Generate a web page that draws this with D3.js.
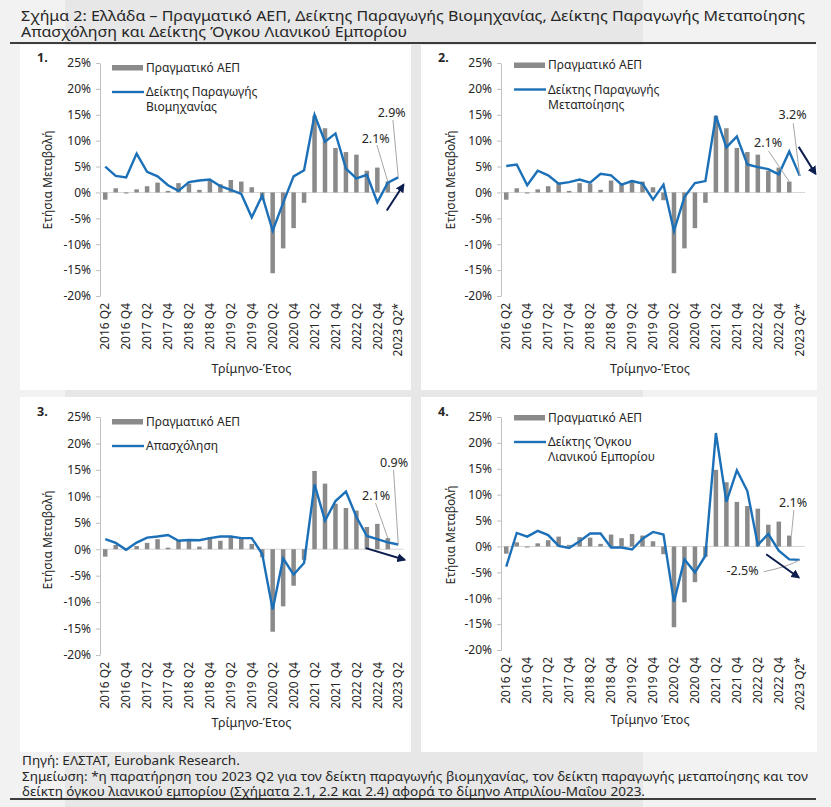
<!DOCTYPE html>
<html>
<head>
<meta charset="utf-8">
<script src="https://cdn.jsdelivr.net/npm/d3@7"></script>
<style>
  body { margin: 0; background: #f2f2f2; }
  text { font-family: "Noto Sans", sans-serif; fill: #262626; }
</style>
</head>
<body>
<svg id="chart" width="831" height="807"></svg>
<script>
// Quarters on the x axis (2016 Q2 .. 2023 Q2)
var quarters = ["2016 Q2","2016 Q3","2016 Q4","2017 Q1","2017 Q2","2017 Q3","2017 Q4",
  "2018 Q1","2018 Q2","2018 Q3","2018 Q4","2019 Q1","2019 Q2","2019 Q3","2019 Q4",
  "2020 Q1","2020 Q2","2020 Q3","2020 Q4","2021 Q1","2021 Q2","2021 Q3","2021 Q4",
  "2022 Q1","2022 Q2","2022 Q3","2022 Q4","2023 Q1","2023 Q2"];

// Annual change, %
var gdp = [-1.4, 0.8, -0.2, 0.6, 1.2, 1.9, 0.3, 1.8, 1.7, 0.5, 2.3, 1.6, 2.4, 2.1, 1.0,
  -1.5, -15.6, -10.8, -6.9, -2.0, 14.8, 12.4, 8.6, 7.8, 7.3, 4.2, 4.8, 2.1, null];
var industry = [5.0, 3.2, 2.9, 7.5, 4.0, 3.1, 1.4, 0.3, 2.0, 2.3, 2.5, 1.2, 0.5, -0.3, -4.8,
  -0.6, -7.4, -2.0, 3.1, 4.3, 15.0, 9.8, 11.4, 4.6, 2.7, 3.4, -1.9, 1.9, 2.9];
var manufacturing = [5.1, 5.4, 1.4, 4.2, 3.3, 1.7, 2.0, 2.5, 1.9, 3.6, 3.3, 1.5, 2.2, 1.7, -1.4,
  1.5, -7.4, -0.9, 1.8, 2.2, 14.8, 8.7, 10.8, 5.4, 4.9, 4.5, 3.5, 7.9, 3.2];
var employment = [1.9, 1.2, -0.1, 1.25, 2.2, 2.4, 2.7, 1.6, 1.75, 1.7, 2.1, 2.4, 2.4, 2.1, 2.1,
  -0.9, -11.4, -1.75, -4.8, -2.6, 12.25, 5.4, 9.1, 10.9, 6.1, 2.5, 1.9, 1.3, 0.9];
var retail = [-3.9, 2.6, 1.9, 3.0, 2.2, 0.1, -0.3, 1.0, 2.5, 2.5, -0.2, -0.2, -0.6, 1.5, 2.8,
  2.3, -10.7, -2.5, -5.0, -1.8, 21.9, 8.6, 14.7, 10.7, 0.3, 2.4, -0.8, -2.5, -2.6];

var yTicks = [25, 20, 15, 10, 5, 0, -5, -10, -15, -20];
var tickQuarters = quarters.filter(function (q, i) { return i % 2 === 0; });

var titleLines = ["Σχήμα 2: Ελλάδα – Πραγματικό ΑΕΠ, Δείκτης Παραγωγής Βιομηχανίας, Δείκτης Παραγωγής Μεταποίησης",
  "Απασχόληση και Δείκτης Όγκου Λιανικού Εμπορίου"];
var noteLines = ["Πηγή: ΕΛΣΤΑΤ, Eurobank Research.",
  "Σημείωση: *η παρατήρηση του 2023 Q2 για τον δείκτη παραγωγής βιομηχανίας, τον δείκτη παραγωγής μεταποίησης και τον",
  "δείκτη όγκου λιανικού εμπορίου (Σχήματα 2.1, 2.2 και 2.4) αφορά το δίμηνο Απριλίου-Μαΐου 2023."];

var barColor = "#8a8a8a", lineColor = "#1b70b8", arrowColor = "#0c1d4e", axisColor = "#bfbfbf";

var svg = d3.select("#chart");

// page background and the darker band behind it
svg.append("rect").attr("width", 831).attr("height", 807).attr("fill", "#f2f2f2");
svg.append("rect").attr("x", 65).attr("width", 578).attr("height", 807).attr("fill", "#e7e7e7");

svg.append("defs").append("marker")
  .attr("id", "head")
  .attr("viewBox", "0 0 10 10")
  .attr("refX", 8).attr("refY", 5)
  .attr("markerWidth", 4.5).attr("markerHeight", 4.5)
  .attr("orient", "auto")
  .append("path").attr("d", "M0,0 L10,5 L0,10 z").attr("fill", arrowColor);

// fit a group of lines horizontally so that one reference line gets width w
function squeeze(nodes, refIndex, w) {
  var ratio = w / nodes[refIndex].node().getComputedTextLength();
  nodes.forEach(function (t) {
    var len = t.node().getComputedTextLength();
    t.attr("textLength", (len * ratio).toFixed(1)).attr("lengthAdjust", "spacingAndGlyphs");
  });
}

// Title
var titleNodes = titleLines.map(function (s, k) {
  return svg.append("text").attr("x", 21).attr("y", 20.5 + k * 16.5)
    .attr("font-family", "Roboto, sans-serif").attr("font-size", 14).text(s);
});
squeeze(titleNodes, 0, 784);
svg.append("line").attr("x1", 10).attr("x2", 816).attr("y1", 43).attr("y2", 43)
  .attr("stroke", "#000").attr("stroke-width", 1.3);

var panels = [
  { num: "1.", box: [20, 45, 391, 345], xr: [100, 403.5], yr: [296, 63], legendAt: [112, 65],
    series: industry, legend: ["Δείκτης Παραγωγής", "Βιομηχανίας"], star: true,
    yTitle: [52, 180], xTitle: [251.5, 373, "Τρίμηνο-Έτος"],
    notes: [
      { text: "2.9%", at: [27.37, 14.56], from: [27.49, 13.98], to: [28, industry[28]] },
      { text: "2.1%", at: [25.84, 9.54], from: [25.96, 9.15], to: [27, gdp[27]] }
    ],
    arrow: [[26.9, -3.5], [28.5, 1.5]] },
  { num: "2.", box: [421, 45, 396, 345], xr: [501, 805], yr: [296, 63], legendAt: [514, 62.5],
    series: manufacturing, legend: ["Δείκτης Παραγωγής", "Μεταποίησης"], star: true,
    yTitle: [455, 180], xTitle: [650, 373, "Τρίμηνο-Έτος"],
    notes: [
      { text: "3.2%", at: [27.32, 14.18], from: [27.38, 13.35], to: [28, manufacturing[28]] },
      { text: "2.1%", at: [24.98, 8.86], from: [25.02, 8.0], to: [27, gdp[27]] }
    ],
    arrow: [[27.9, 8.8], [29.5, 3.6]] },
  { num: "3.", box: [20, 397, 391, 355], xr: [100, 403.5], yr: [655, 417], legendAt: [112, 419],
    series: employment, legend: ["Απασχόληση"], star: false,
    yTitle: [52, 540], xTitle: [251.5, 727, "Τρίμηνο-Έτος"],
    notes: [
      { text: "0.9%", at: [27.6, 15.54], from: [27.55, 14.97], to: [28, employment[28]] },
      { text: "2.1%", at: [25.88, 9.3], from: [25.83, 8.73], to: [27, gdp[27]] }
    ],
    arrow: [[24.9, 0.2], [28.6, -2.0]] },
  { num: "4.", box: [421, 397, 396, 355], xr: [501, 805], yr: [650, 417], legendAt: [514, 415],
    series: retail, legend: ["Δείκτης Όγκου", "Λιανικού Εμπορίου"], star: true,
    yTitle: [455, 535], xTitle: [650, 724, "Τρίμηνο Έτος"],
    notes: [
      { text: "2.1%", at: [27.36, 7.6], from: [27.44, 7.03], to: [27.2, gdp[27]] },
      { text: "-2.5%", at: [22.54, -5.52], from: [24.55, -4.89], to: [28, retail[28]], bend: [26.9, -3.9] }
    ],
    arrow: [[24.8, -1.5], [27.9, -6.0]] }
];

function drawPanel(p) {
  var g = svg.append("g");
  g.append("rect").attr("x", p.box[0]).attr("y", p.box[1])
    .attr("width", p.box[2]).attr("height", p.box[3]).attr("fill", "#fff");

  var x = d3.scaleBand().domain(quarters).range(p.xr).paddingInner(0.57).paddingOuter(0.285);
  var y = d3.scaleLinear().domain([-20, 25]).range(p.yr);
  var half = x.bandwidth() / 2;
  var xi = d3.scaleLinear().domain([0, quarters.length - 1])
    .range([x(quarters[0]) + half, x(quarters[quarters.length - 1]) + half]);

  // y axis
  var ya = g.append("g").attr("transform", "translate(" + p.xr[0] + ",0)")
    .call(d3.axisLeft(y).tickValues(yTicks).tickSize(4).tickSizeOuter(0).tickPadding(5)
      .tickFormat(function (d) { return d + "%"; }));
  ya.select(".domain").attr("stroke", axisColor);
  ya.selectAll(".tick line").attr("stroke", axisColor);
  ya.selectAll("text").attr("font-size", 12).attr("font-family", "Noto Sans").attr("fill", "#262626");

  // zero line
  g.append("line").attr("x1", p.xr[0]).attr("x2", p.xr[1])
    .attr("y1", y(0)).attr("y2", y(0)).attr("stroke", "#d6d6d6").attr("stroke-width", 1);

  // x axis labels
  var last = quarters[quarters.length - 1];
  var xa = g.append("g").attr("transform", "translate(0," + p.yr[0] + ")")
    .call(d3.axisBottom(x).tickValues(tickQuarters).tickSize(0)
      .tickFormat(function (d) { return d === last && p.star ? d + "*" : d; }));
  xa.select(".domain").remove();
  xa.selectAll("text")
    .attr("font-size", 12).attr("font-family", "Noto Sans").attr("fill", "#262626")
    .attr("transform", "rotate(-90)")
    .attr("x", -7).attr("y", 0).attr("dy", "0.35em")
    .attr("text-anchor", "end");

  // GDP bars
  g.selectAll(".bar").data(gdp.map(function (d, i) { return { q: quarters[i], v: d }; })
      .filter(function (d) { return d.v !== null; }))
    .enter().append("rect")
    .attr("x", function (d) { return x(d.q); })
    .attr("width", x.bandwidth())
    .attr("y", function (d) { return y(Math.max(0, d.v)); })
    .attr("height", function (d) { return Math.abs(y(d.v) - y(0)); })
    .attr("fill", barColor);

  // indicator line
  g.append("path").datum(p.series)
    .attr("d", d3.line().x(function (d, i) { return xi(i); }).y(function (d) { return y(d); }))
    .attr("fill", "none").attr("stroke", lineColor).attr("stroke-width", 2.4)
    .attr("stroke-linejoin", "miter");

  // annotations
  p.notes.forEach(function (n) {
    var path = n.bend
      ? "M" + xi(n.from[0]) + "," + y(n.from[1]) + " Q" + xi(n.bend[0]) + "," + y(n.bend[1]) + " " + xi(n.to[0]) + "," + y(n.to[1])
      : "M" + xi(n.from[0]) + "," + y(n.from[1]) + " L" + xi(n.to[0]) + "," + y(n.to[1]);
    g.append("path").attr("d", path).attr("fill", "none")
      .attr("stroke", "#a6a6a6").attr("stroke-width", 1);
    g.append("text").attr("x", xi(n.at[0])).attr("y", y(n.at[1]))
      .attr("text-anchor", "middle").attr("font-size", 12.5).text(n.text);
  });
  g.append("line")
    .attr("x1", xi(p.arrow[0][0])).attr("y1", y(p.arrow[0][1]))
    .attr("x2", xi(p.arrow[1][0])).attr("y2", y(p.arrow[1][1]))
    .attr("stroke", arrowColor).attr("stroke-width", 2).attr("marker-end", "url(#head)");

  // legend
  var lx = p.legendAt[0], ly = p.legendAt[1];
  g.append("rect").attr("x", lx).attr("y", ly).attr("width", 31).attr("height", 5.5).attr("fill", barColor);
  g.append("text").attr("x", lx + 34).attr("y", ly + 6.5).attr("font-size", 12).text("Πραγματικό ΑΕΠ");
  g.append("line").attr("x1", lx).attr("x2", lx + 32).attr("y1", ly + 27).attr("y2", ly + 27)
    .attr("stroke", lineColor).attr("stroke-width", 2.4);
  p.legend.forEach(function (s, k) {
    g.append("text").attr("x", lx + 34).attr("y", ly + 31 + k * 15).attr("font-size", 12).text(s);
  });

  // panel number and axis titles
  g.append("text").attr("x", p.box[0] + 17).attr("y", p.yr[1] - 1)
    .attr("font-size", 12.5).attr("font-weight", "bold").text(p.num);
  g.append("text").attr("transform", "translate(" + p.yTitle[0] + "," + p.yTitle[1] + ") rotate(-90)")
    .attr("text-anchor", "middle").attr("font-size", 12).text("Ετήσια Μεταβολή");
  g.append("text").attr("x", p.xTitle[0]).attr("y", p.xTitle[1])
    .attr("text-anchor", "middle").attr("font-size", 12.5).text(p.xTitle[2]);
}

panels.forEach(drawPanel);

// Footnote, narrow like the original
var noteNodes = noteLines.map(function (s, k) {
  return svg.append("text").attr("x", 22).attr("y", 765 + k * 15.5)
    .attr("font-family", "Roboto, sans-serif").attr("font-size", 13).text(s);
});
squeeze(noteNodes, 1, 786);
svg.append("line").attr("x1", 10).attr("x2", 816).attr("y1", 799).attr("y2", 799)
  .attr("stroke", "#000").attr("stroke-width", 1.3);
</script>
</body>
</html>
